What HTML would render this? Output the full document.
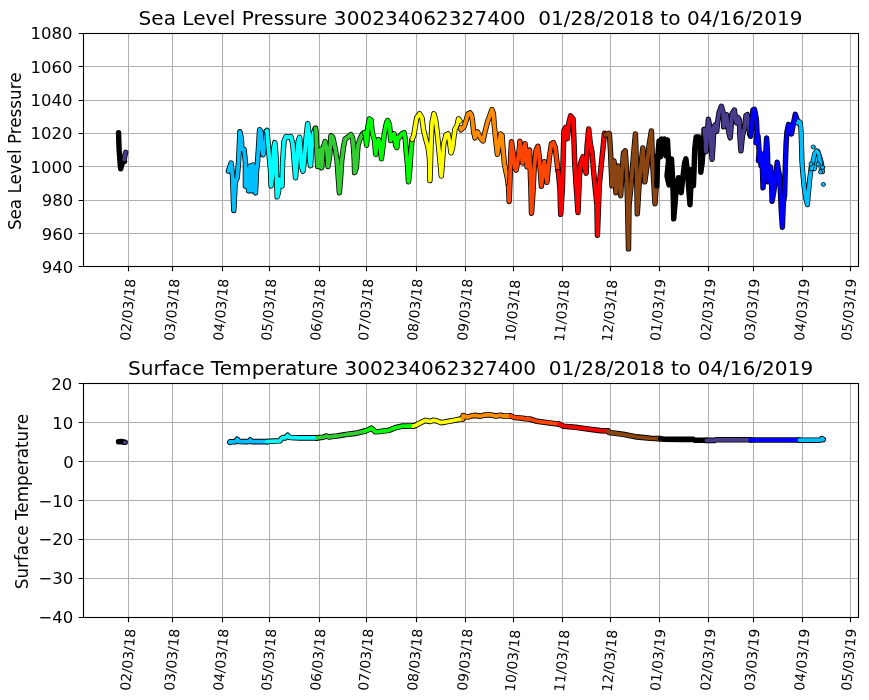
<!DOCTYPE html>
<html><head><meta charset="utf-8"><title>Sea Level Pressure and Surface Temperature</title><style>
html,body{margin:0;padding:0;background:#fff;}
svg{display:block;will-change:transform;}
text{font-family:'DejaVu Sans', 'Liberation Sans', sans-serif;fill:#000;}
.yt{font-size:16.5px;text-anchor:end;}
.xt{font-size:13.8px;text-anchor:middle;}
.yl{font-size:16.75px;text-anchor:middle;}
.ti{font-size:20.08px;text-anchor:middle;}
</style></head><body>
<svg width="869" height="700" viewBox="0 0 869 700">
<rect width="869" height="700" fill="#fff"/>
<path d="M128.5 33.5V266.5M172.5 33.5V266.5M222.5 33.5V266.5M269.5 33.5V266.5M319.5 33.5V266.5M366.5 33.5V266.5M416.5 33.5V266.5M465.5 33.5V266.5M513.5 33.5V266.5M562.5 33.5V266.5M610.5 33.5V266.5M659.5 33.5V266.5M708.5 33.5V266.5M753.5 33.5V266.5M802.5 33.5V266.5M850.5 33.5V266.5M83.5 33.5H858.5M83.5 66.5H858.5M83.5 100.5H858.5M83.5 133.5H858.5M83.5 166.5H858.5M83.5 200.5H858.5M83.5 233.5H858.5M83.5 266.5H858.5" stroke="#b0b0b0" stroke-width="1.11" fill="none"/>
<g transform="translate(0 0.9)"><g fill="none" stroke-linecap="round" stroke-linejoin="round">
<polyline points="118.6,131.8 118.8,140 119.2,150 119.8,158 120.3,165 120.7,168 122,163 123.5,161 124.5,160.5" stroke="#000" stroke-width="5.4"/><polyline points="118.6,131.8 118.8,140 119.2,150 119.8,158 120.3,165 120.7,168 122,163 123.5,161 124.5,160.5" stroke="#000000" stroke-width="3.8"/>
<polyline points="124.3,158.6 124.8,155 125.7,151.4" stroke="#000" stroke-width="5.4"/><polyline points="124.3,158.6 124.8,155 125.7,151.4" stroke="#483d8b" stroke-width="3.8"/>
<polyline points="228.4,170.2 231.1,162.1 232.5,174.3 233.8,209.6 235.2,181 237.2,177 238.6,160.7 239.9,130.9 241.3,137.6 242,148.5 244,148.5 245.4,160.7 245.4,185.1 247,168 248.5,190 250,165 251.5,190 253,164 254.5,188 255.5,192 256.5,170 257.6,160.7 258.9,140.4 259.6,128.8 261,130.9 261.6,144.4 263,153.9 264.3,147.1 265.7,137.6 266.4,130.2" stroke="#000" stroke-width="5.4"/><polyline points="228.4,170.2 231.1,162.1 232.5,174.3 233.8,209.6 235.2,181 237.2,177 238.6,160.7 239.9,130.9 241.3,137.6 242,148.5 244,148.5 245.4,160.7 245.4,185.1 247,168 248.5,190 250,165 251.5,190 253,164 254.5,188 255.5,192 256.5,170 257.6,160.7 258.9,140.4 259.6,128.8 261,130.9 261.6,144.4 263,153.9 264.3,147.1 265.7,137.6 266.4,130.2" stroke="#00bfff" stroke-width="3.8"/>
<polyline points="266.4,130.2 267,129.5 268.4,147.1 270.4,167.5 271.1,185.1 272.5,174.3 273.8,147.1 274.8,141.7 275.9,153.9 276.5,174.3 277.2,196 278.6,190.6 279.2,178.3 280.6,183.8 282,185.1 282.6,160.7 284,140.4 286,135.6 288.7,136.3 290.8,135.6 292.8,143.1 294.2,160.7 295.5,177 296.9,160.7 298.2,140.4 299.6,136.3 300.5,147.1 301.6,166.1 303,170.2 304.3,160.7 305.7,140.4 307.7,122.7 309.1,133.6 309.8,160.7 310.5,164.8 311.8,147.1 313.2,133.6 314.5,129.5 315.4,127.4" stroke="#000" stroke-width="5.4"/><polyline points="266.4,130.2 267,129.5 268.4,147.1 270.4,167.5 271.1,185.1 272.5,174.3 273.8,147.1 274.8,141.7 275.9,153.9 276.5,174.3 277.2,196 278.6,190.6 279.2,178.3 280.6,183.8 282,185.1 282.6,160.7 284,140.4 286,135.6 288.7,136.3 290.8,135.6 292.8,143.1 294.2,160.7 295.5,177 296.9,160.7 298.2,140.4 299.6,136.3 300.5,147.1 301.6,166.1 303,170.2 304.3,160.7 305.7,140.4 307.7,122.7 309.1,133.6 309.8,160.7 310.5,164.8 311.8,147.1 313.2,133.6 314.5,129.5 315.4,127.4" stroke="#00ffff" stroke-width="3.8"/>
<polyline points="315.4,127.4 316,130.3 316.6,142.9 317.1,154.3 317.7,165.7 319,150 320,166 321,148 321.7,166.9 322.9,148.6 325.1,140.6 326.9,148.6 328,165.7 329.7,154.3 330.9,134.9 332.6,136 333.7,140.6 335.4,148.6 337.1,160 338.3,177.1 339.4,192 340.6,177.1 341.7,160 343.4,146.3 345.1,138.3 348,136 350.9,133.7 352.6,137.1 353.7,148.6 354.3,160 354.6,171.7 356.3,167.1 358,144.3 360.3,137.4 362.6,132.9 364.3,131.7" stroke="#000" stroke-width="5.4"/><polyline points="315.4,127.4 316,130.3 316.6,142.9 317.1,154.3 317.7,165.7 319,150 320,166 321,148 321.7,166.9 322.9,148.6 325.1,140.6 326.9,148.6 328,165.7 329.7,154.3 330.9,134.9 332.6,136 333.7,140.6 335.4,148.6 337.1,160 338.3,177.1 339.4,192 340.6,177.1 341.7,160 343.4,146.3 345.1,138.3 348,136 350.9,133.7 352.6,137.1 353.7,148.6 354.3,160 354.6,171.7 356.3,167.1 358,144.3 360.3,137.4 362.6,132.9 364.3,131.7" stroke="#32cd32" stroke-width="3.8"/>
<polyline points="364.3,131.7 365.5,134 366.6,144.3 367.7,127.1 369.4,118 371.1,119.1 371.7,127.1 372.9,134 374.6,139.7 375.7,153.4 376.9,144.3 378.6,138.6 380.3,144.3 381.4,158 383.1,144.3 384.3,132.9 386.6,121.4 387.7,119.7 389.4,123.7 390,129.4 390.6,139.7 392.3,135.1 394,132.9 395.7,144.3 396.9,146.6 398,136.3 399.6,136.3 401.9,132.9 404.1,131.7 405.3,138.6 406.4,153.4 407.6,164.9 408.5,180.9 409.9,167.1 411,150 412.1,138.6" stroke="#000" stroke-width="5.4"/><polyline points="364.3,131.7 365.5,134 366.6,144.3 367.7,127.1 369.4,118 371.1,119.1 371.7,127.1 372.9,134 374.6,139.7 375.7,153.4 376.9,144.3 378.6,138.6 380.3,144.3 381.4,158 383.1,144.3 384.3,132.9 386.6,121.4 387.7,119.7 389.4,123.7 390,129.4 390.6,139.7 392.3,135.1 394,132.9 395.7,144.3 396.9,146.6 398,136.3 399.6,136.3 401.9,132.9 404.1,131.7 405.3,138.6 406.4,153.4 407.6,164.9 408.5,180.9 409.9,167.1 411,150 412.1,138.6" stroke="#00ff00" stroke-width="3.8"/>
<polyline points="412.1,138.6 413.9,134 415,127.1 416.7,116.9 419.6,112.9 421.9,116.9 423.6,129.4 425.9,138.6 428.1,146.6 429.3,155.7 429.9,167.1 429.9,179.7 430.4,164.9 431,144.3 432.1,121.4 433.9,112.9 435.6,119.1 436.7,127.1 437.9,138.6 439,150 440.1,161.4 441.3,175.1 442.4,161.4 443.6,144.3 444,142 446,134 448,133 449.5,140 451,152 452.5,147 454,135 455,128 457,125 458.5,118 460,120" stroke="#000" stroke-width="5.4"/><polyline points="412.1,138.6 413.9,134 415,127.1 416.7,116.9 419.6,112.9 421.9,116.9 423.6,129.4 425.9,138.6 428.1,146.6 429.3,155.7 429.9,167.1 429.9,179.7 430.4,164.9 431,144.3 432.1,121.4 433.9,112.9 435.6,119.1 436.7,127.1 437.9,138.6 439,150 440.1,161.4 441.3,175.1 442.4,161.4 443.6,144.3 444,142 446,134 448,133 449.5,140 451,152 452.5,147 454,135 455,128 457,125 458.5,118 460,120" stroke="#ffff00" stroke-width="3.8"/>
<polyline points="460.5,127 461,129 464,126 466,120 468,113 470,112 471.5,114 472.5,120 473.5,130 475,137 477.5,131 479,134 481,138 483,140 484.5,133 486,127 487.5,121 489.5,115.7 491.9,108.6 493.4,112.6 494.2,123.6 495.8,139.3 497.4,153.5 499,144 500.5,133 502.1,134.6 502.9,147.2 504.4,162.9 506,170.8 507.6,178.6 508.5,185" stroke="#000" stroke-width="5.4"/><polyline points="460.5,127 461,129 464,126 466,120 468,113 470,112 471.5,114 472.5,120 473.5,130 475,137 477.5,131 479,134 481,138 483,140 484.5,133 486,127 487.5,121 489.5,115.7 491.9,108.6 493.4,112.6 494.2,123.6 495.8,139.3 497.4,153.5 499,144 500.5,133 502.1,134.6 502.9,147.2 504.4,162.9 506,170.8 507.6,178.6 508.5,185" stroke="#ff8c00" stroke-width="3.8"/>
<polyline points="508.5,185 509.2,200.6 510,178.6 510.7,155 511.5,140.9 513.1,151.9 514.7,166 516.2,169.2 517.8,159.7 519.4,147.2 519.9,140.3 521.2,149.3 522.5,162.1 523.8,149.3 525.1,142.9 526.4,155.7 527,166 528.3,150.6 529.6,149.3 530.2,168.6 530.9,187.8 531.5,212.3 532.8,194.3 534.1,168.6 536,149.3 537.9,145.4 539.2,155.7 540.5,172.4 541.4,185.3 543.1,168.6 544.3,160.8 545.6,171.1 546.9,181.4 548.2,168.6 549.5,155.7 551.4,142.9 553.3,141.6 555.3,146.7 556.6,158.3 557.8,168.6 558.3,170.7" stroke="#000" stroke-width="5.4"/><polyline points="508.5,185 509.2,200.6 510,178.6 510.7,155 511.5,140.9 513.1,151.9 514.7,166 516.2,169.2 517.8,159.7 519.4,147.2 519.9,140.3 521.2,149.3 522.5,162.1 523.8,149.3 525.1,142.9 526.4,155.7 527,166 528.3,150.6 529.6,149.3 530.2,168.6 530.9,187.8 531.5,212.3 532.8,194.3 534.1,168.6 536,149.3 537.9,145.4 539.2,155.7 540.5,172.4 541.4,185.3 543.1,168.6 544.3,160.8 545.6,171.1 546.9,181.4 548.2,168.6 549.5,155.7 551.4,142.9 553.3,141.6 555.3,146.7 556.6,158.3 557.8,168.6 558.3,170.7" stroke="#ff4500" stroke-width="3.8"/>
<polyline points="558.3,170.7 559.9,187.1 560.7,213.4 562.4,187.1 563.2,154.3 564,129.6 565.7,126.3 567.3,137.8 569,121.4 570.6,114.9 573.1,118.1 573.9,137.8 574.7,162.5 576.3,187.1 578,211.7 579.3,178.9 580.5,162.5 582.9,155.9 584.6,167.4 586.2,172.3 587,146 588.7,128 590.3,142.8 592,151 593.6,170.7 595.2,187.1 596.9,203.5 597.4,234.4 599.3,184.3 601.1,165.7 603,147.1 604.5,132.3 605.8,134.1" stroke="#000" stroke-width="5.4"/><polyline points="558.3,170.7 559.9,187.1 560.7,213.4 562.4,187.1 563.2,154.3 564,129.6 565.7,126.3 567.3,137.8 569,121.4 570.6,114.9 573.1,118.1 573.9,137.8 574.7,162.5 576.3,187.1 578,211.7 579.3,178.9 580.5,162.5 582.9,155.9 584.6,167.4 586.2,172.3 587,146 588.7,128 590.3,142.8 592,151 593.6,170.7 595.2,187.1 596.9,203.5 597.4,234.4 599.3,184.3 601.1,165.7 603,147.1 604.5,132.3 605.8,134.1" stroke="#ff0000" stroke-width="3.8"/>
<polyline points="605.8,134.1 608.6,132.3 609.4,133 610.5,150 611,162 612,185 614,160 615.9,192 618,165 620.7,194.8 622,170 623.5,152 625.3,150 626.5,170 627.5,200 628.5,248 629,205 631,185 633,160 635.4,133 636.5,165 637.3,213 639,185 641,165 642.8,147 644.3,165 644.8,181 647,165 649,145 651.4,130 652.5,160 654,185 655,203 656.5,180 657.4,155.1" stroke="#000" stroke-width="5.4"/><polyline points="605.8,134.1 608.6,132.3 609.4,133 610.5,150 611,162 612,185 614,160 615.9,192 618,165 620.7,194.8 622,170 623.5,152 625.3,150 626.5,170 627.5,200 628.5,248 629,205 631,185 633,160 635.4,133 636.5,165 637.3,213 639,185 641,165 642.8,147 644.3,165 644.8,181 647,165 649,145 651.4,130 652.5,160 654,185 655,203 656.5,180 657.4,155.1" stroke="#8b4513" stroke-width="3.8"/>
<polyline points="656.8,185 657.2,170 657.5,160 659,140 660.5,156 661.5,138 663,152 664.5,138 666,155 667.5,139 668.5,160 667,175 669,184 670.5,165 671.5,158 672.5,175 673.2,195 673.7,218 675.1,202.6 676.4,185 678.5,176.8 679.8,189.1 681.2,191.8 682.5,179.6 684.6,161.9 685.9,157.9 687.3,168.7 688.6,186.3 690,204 690.7,189.1 691.3,168.7 692.7,175.5 693.4,185 694.1,168.7 694.7,148.4 696.1,136.1 698.8,136.1 700.2,148.4 700.8,171.4 702.2,161.9 703.6,141.6 704.2,128.6" stroke="#000" stroke-width="5.4"/><polyline points="656.8,185 657.2,170 657.5,160 659,140 660.5,156 661.5,138 663,152 664.5,138 666,155 667.5,139 668.5,160 667,175 669,184 670.5,165 671.5,158 672.5,175 673.2,195 673.7,218 675.1,202.6 676.4,185 678.5,176.8 679.8,189.1 681.2,191.8 682.5,179.6 684.6,161.9 685.9,157.9 687.3,168.7 688.6,186.3 690,204 690.7,189.1 691.3,168.7 692.7,175.5 693.4,185 694.1,168.7 694.7,148.4 696.1,136.1 698.8,136.1 700.2,148.4 700.8,171.4 702.2,161.9 703.6,141.6 704.2,128.6" stroke="#000000" stroke-width="3.8"/>
<polyline points="704.2,128.6 705.6,139.8 706,150.9 707,135.1 708.4,118.4 709.7,125.9 710.7,139.8 712.1,158.4 713,144.4 713.9,125.9 715.3,124 716.7,130.5 717.6,121.2 719,111.9 721.4,105.4 723.2,111.9 723.7,125.9 725.1,116.6 726.5,113.8 727.4,122.1 728.8,131.4 730.2,137 731.1,125.9 732,112.9 734.4,109.1 735.3,116.6 736.7,122.1 738.1,116.6 739.5,119.4 739.9,135.1 740.9,150 742.2,137 743.2,131.4 744.6,127.7 746,114.7 747.4,113.8 748.7,121.2 749.7,133.3 750.6,135.1" stroke="#000" stroke-width="5.4"/><polyline points="704.2,128.6 705.6,139.8 706,150.9 707,135.1 708.4,118.4 709.7,125.9 710.7,139.8 712.1,158.4 713,144.4 713.9,125.9 715.3,124 716.7,130.5 717.6,121.2 719,111.9 721.4,105.4 723.2,111.9 723.7,125.9 725.1,116.6 726.5,113.8 727.4,122.1 728.8,131.4 730.2,137 731.1,125.9 732,112.9 734.4,109.1 735.3,116.6 736.7,122.1 738.1,116.6 739.5,119.4 739.9,135.1 740.9,150 742.2,137 743.2,131.4 744.6,127.7 746,114.7 747.4,113.8 748.7,121.2 749.7,133.3 750.6,135.1" stroke="#483d8b" stroke-width="3.8"/>
<polyline points="750.6,135.1 751.7,127.9 752.9,109.1 754.5,108.4 756.4,118.6 757,131.6 756,142 758,135 759.1,150 758.5,160 760,152 761,165 761.5,153 762.5,170 763,187 764,172 765.6,155.7 766.6,137.1 767.5,152 767.8,165 768.2,181 769.4,170.6 770.5,166 771.5,178 772.1,200.3 774,189.1 775.9,174.3 777.2,161.3 778.5,170 779.6,174.3 780.5,192.9 781.4,211.4 782.4,226.3 783.3,202.1 784.6,194.3 785.4,162.9 786.1,142.5 786.9,131.4 788.5,123.6 790.1,125.2 791.6,133 793.2,123.6 795.3,113.4 797.2,118.9 797.9,122" stroke="#000" stroke-width="5.4"/><polyline points="750.6,135.1 751.7,127.9 752.9,109.1 754.5,108.4 756.4,118.6 757,131.6 756,142 758,135 759.1,150 758.5,160 760,152 761,165 761.5,153 762.5,170 763,187 764,172 765.6,155.7 766.6,137.1 767.5,152 767.8,165 768.2,181 769.4,170.6 770.5,166 771.5,178 772.1,200.3 774,189.1 775.9,174.3 777.2,161.3 778.5,170 779.6,174.3 780.5,192.9 781.4,211.4 782.4,226.3 783.3,202.1 784.6,194.3 785.4,162.9 786.1,142.5 786.9,131.4 788.5,123.6 790.1,125.2 791.6,133 793.2,123.6 795.3,113.4 797.2,118.9 797.9,122" stroke="#0000ff" stroke-width="3.8"/>
<polyline points="797.9,122 798.7,120.4 800.3,122 801.1,131.4 801.6,147.2 801.9,159.7 802.7,170.8 804.2,186.5 805.8,197.5 807.4,203.8 808.2,194.3 809.7,178.6 811.3,166 812.9,162.9 814.4,167.6 816,155 817.6,150.3 819.2,155 820.7,159.7 821.5,162.9 822.3,170.8" stroke="#000" stroke-width="5.2"/><polyline points="797.9,122 798.7,120.4 800.3,122 801.1,131.4 801.6,147.2 801.9,159.7 802.7,170.8 804.2,186.5 805.8,197.5 807.4,203.8 808.2,194.3 809.7,178.6 811.3,166 812.9,162.9 814.4,167.6 816,155 817.6,150.3 819.2,155 820.7,159.7 821.5,162.9 822.3,170.8" stroke="#00bfff" stroke-width="3.7"/>
<polyline points="811.5,168 813,160 814.5,153 816.5,150 818.5,152 820,160 821,167" stroke="#000" stroke-width="4.8"/><polyline points="811.5,168 813,160 814.5,153 816.5,150 818.5,152 820,160 821,167" stroke="#00bfff" stroke-width="3.4"/>
<circle cx="813.2" cy="146.1" r="2.1" fill="#00bfff" stroke="#000" stroke-width="0.7"/>
<circle cx="823.4" cy="183.5" r="2.1" fill="#00bfff" stroke="#000" stroke-width="0.7"/>
<circle cx="822.6" cy="166.4" r="2.1" fill="#00bfff" stroke="#000" stroke-width="0.7"/>
<circle cx="811" cy="163" r="2.1" fill="#00bfff" stroke="#000" stroke-width="0.7"/>
<circle cx="818.2" cy="163.5" r="2.1" fill="#00bfff" stroke="#000" stroke-width="0.7"/>
<circle cx="820.5" cy="171" r="2.1" fill="#00bfff" stroke="#000" stroke-width="0.7"/>
</g></g>
<rect x="83.5" y="33.5" width="775" height="233" fill="none" stroke="#000" stroke-width="1.11"/>
<path d="M83.5 33.5H78.64M83.5 66.5H78.64M83.5 100.5H78.64M83.5 133.5H78.64M83.5 166.5H78.64M83.5 200.5H78.64M83.5 233.5H78.64M83.5 266.5H78.64M128.5 266.5V271.36M172.5 266.5V271.36M222.5 266.5V271.36M269.5 266.5V271.36M319.5 266.5V271.36M366.5 266.5V271.36M416.5 266.5V271.36M465.5 266.5V271.36M513.5 266.5V271.36M562.5 266.5V271.36M610.5 266.5V271.36M659.5 266.5V271.36M708.5 266.5V271.36M753.5 266.5V271.36M802.5 266.5V271.36M850.5 266.5V271.36" stroke="#000" stroke-width="1.11" fill="none"/>
<text x="72.4" y="38.85" class="yt">1080</text>
<text x="72.4" y="72.75" class="yt">1060</text>
<text x="72.4" y="105.85" class="yt">1040</text>
<text x="72.4" y="138.95" class="yt">1020</text>
<text x="72.4" y="172.85" class="yt">1000</text>
<text x="73.3" y="205.85" class="yt">980</text>
<text x="73.3" y="239.85" class="yt">960</text>
<text x="73.3" y="272.85" class="yt">940</text>
<text transform="translate(127.7 309.62) rotate(-85)" y="5.03" class="xt">02/03/18</text>
<text transform="translate(171.7 309.62) rotate(-85)" y="5.03" class="xt">03/03/18</text>
<text transform="translate(220.75 309.62) rotate(-85)" y="5.03" class="xt">04/03/18</text>
<text transform="translate(268.6 309.62) rotate(-85)" y="5.03" class="xt">05/03/18</text>
<text transform="translate(317.75 309.62) rotate(-85)" y="5.03" class="xt">06/03/18</text>
<text transform="translate(365.6 309.62) rotate(-85)" y="5.03" class="xt">07/03/18</text>
<text transform="translate(414.75 309.62) rotate(-85)" y="5.03" class="xt">08/03/18</text>
<text transform="translate(464.8 309.62) rotate(-85)" y="5.03" class="xt">09/03/18</text>
<text transform="translate(512.5 310.62) rotate(-85)" y="5.03" class="xt">10/03/18</text>
<text transform="translate(561.8 310.62) rotate(-85)" y="5.03" class="xt">11/03/18</text>
<text transform="translate(609.5 310.62) rotate(-85)" y="5.03" class="xt">12/03/18</text>
<text transform="translate(657.7 309.87) rotate(-85)" y="5.03" class="xt">01/03/19</text>
<text transform="translate(707.7 309.62) rotate(-85)" y="5.03" class="xt">02/03/19</text>
<text transform="translate(751.7 309.62) rotate(-85)" y="5.03" class="xt">03/03/19</text>
<text transform="translate(801.7 309.62) rotate(-85)" y="5.03" class="xt">04/03/19</text>
<text transform="translate(848.6 309.62) rotate(-85)" y="5.03" class="xt">05/03/19</text>
<text transform="translate(20.8 151.3) rotate(-90)" class="yl">Sea Level Pressure</text>
<text x="470.6" y="24.9" class="ti">Sea Level Pressure 300234062327400 &#160;01/28/2018 to 04/16/2019</text>
<path d="M128.5 383.5V617.5M172.5 383.5V617.5M222.5 383.5V617.5M269.5 383.5V617.5M319.5 383.5V617.5M366.5 383.5V617.5M416.5 383.5V617.5M465.5 383.5V617.5M513.5 383.5V617.5M562.5 383.5V617.5M610.5 383.5V617.5M659.5 383.5V617.5M708.5 383.5V617.5M753.5 383.5V617.5M802.5 383.5V617.5M850.5 383.5V617.5M83.5 383.5H858.5M83.5 422.5H858.5M83.5 461.5H858.5M83.5 500.5H858.5M83.5 539.5H858.5M83.5 578.5H858.5M83.5 617.5H858.5" stroke="#b0b0b0" stroke-width="1.11" fill="none"/>
<g fill="none" stroke-linecap="round" stroke-linejoin="round">
<polyline points="118.6,441.8 121,441.6 123.3,442.1" stroke="#000" stroke-width="5.6"/>
<polyline points="124.9,442.3 125.1,442.3" stroke="#000" stroke-width="5.6"/>
<polyline points="229.8,442.3 230,441.9 233,441.8 235.5,441.7 237.2,439.2 239,441.5 248,441.6 249.3,441.4 250.3,440 251.5,441.4 253,441.6 267.1,441.6" stroke="#000" stroke-width="5.6"/>
<polyline points="267.1,441.6 270,441.3 280,440.8 281.5,438.5 283,437.5 285,438 286.5,436.5 287.6,435.3 289,437.2 291,437.5 300,437.9 316.8,437.9" stroke="#000" stroke-width="5.6"/>
<polyline points="316.8,437.9 323,437.2 326.7,436 329,437 332,436.5 337,436 346,434.5 355,433.4 364.2,431.3" stroke="#000" stroke-width="5.6"/>
<polyline points="364.2,431.3 366,430.8 369,429.5 371.3,428.2 373.5,430 375.5,431.8 380,431.5 388.8,430.3 395,427.8 402.6,426.1 413.4,426" stroke="#000" stroke-width="5.6"/>
<polyline points="413.4,426 416.4,425 420,423 425.2,420.4 430.2,421.5 433.5,420.2 437,421 441.3,422.7 448.7,421.3 455,420.2 459.2,419.3 462.5,418.8" stroke="#000" stroke-width="5.6"/>
<polyline points="462.5,418.8 463.2,415.5 465,416.5 468.4,417 471,416 474.4,415.4 480.4,416.1 485,415 489.6,414.7 496,416.1 500.6,415.2 503,416 510.5,416" stroke="#000" stroke-width="5.6"/>
<polyline points="510.5,416 514.5,417.5 522.7,418.2 525,418.8 529.6,419 537,421.3 548,422.7 559.3,424.2" stroke="#000" stroke-width="5.6"/>
<polyline points="559.3,424.2 563.7,426.2 575.6,427.3 589.5,429.2 600.5,430.6 608,431" stroke="#000" stroke-width="5.6"/>
<polyline points="608,431 609.2,432.5 623,434.3 636.8,436.9 650.6,438.3 659.6,438.6" stroke="#000" stroke-width="5.6"/>
<polyline points="659.6,438.6 664.5,439.2 680,439.4 693.4,439.3 694.5,440.2 706.5,440.2" stroke="#000" stroke-width="5.6"/>
<polyline points="706.5,440.4 714.6,440.4 716,439.8 750.2,439.8" stroke="#000" stroke-width="5.6"/>
<polyline points="750.2,440 799.5,440" stroke="#000" stroke-width="5.6"/>
<polyline points="799.5,440.2 820,440.2 821.8,438.6 823.3,439.5" stroke="#000" stroke-width="5.6"/>
<polyline points="118.6,441.8 121,441.6 123.3,442.1" stroke="#000000" stroke-width="3.8"/>
<polyline points="124.9,442.3 125.1,442.3" stroke="#483d8b" stroke-width="3.8"/>
<polyline points="229.8,442.3 230,441.9 233,441.8 235.5,441.7 237.2,439.2 239,441.5 248,441.6 249.3,441.4 250.3,440 251.5,441.4 253,441.6 267.1,441.6" stroke="#00bfff" stroke-width="3.8"/>
<polyline points="267.1,441.6 270,441.3 280,440.8 281.5,438.5 283,437.5 285,438 286.5,436.5 287.6,435.3 289,437.2 291,437.5 300,437.9 316.8,437.9" stroke="#00ffff" stroke-width="3.8"/>
<polyline points="316.8,437.9 323,437.2 326.7,436 329,437 332,436.5 337,436 346,434.5 355,433.4 364.2,431.3" stroke="#32cd32" stroke-width="3.8"/>
<polyline points="364.2,431.3 366,430.8 369,429.5 371.3,428.2 373.5,430 375.5,431.8 380,431.5 388.8,430.3 395,427.8 402.6,426.1 413.4,426" stroke="#00ff00" stroke-width="3.8"/>
<polyline points="413.4,426 416.4,425 420,423 425.2,420.4 430.2,421.5 433.5,420.2 437,421 441.3,422.7 448.7,421.3 455,420.2 459.2,419.3 462.5,418.8" stroke="#ffff00" stroke-width="3.8"/>
<polyline points="462.5,418.8 463.2,415.5 465,416.5 468.4,417 471,416 474.4,415.4 480.4,416.1 485,415 489.6,414.7 496,416.1 500.6,415.2 503,416 510.5,416" stroke="#ff8c00" stroke-width="3.8"/>
<polyline points="510.5,416 514.5,417.5 522.7,418.2 525,418.8 529.6,419 537,421.3 548,422.7 559.3,424.2" stroke="#ff4500" stroke-width="3.8"/>
<polyline points="559.3,424.2 563.7,426.2 575.6,427.3 589.5,429.2 600.5,430.6 608,431" stroke="#ff0000" stroke-width="3.8"/>
<polyline points="608,431 609.2,432.5 623,434.3 636.8,436.9 650.6,438.3 659.6,438.6" stroke="#8b4513" stroke-width="3.8"/>
<polyline points="659.6,438.6 664.5,439.2 680,439.4 693.4,439.3 694.5,440.2 706.5,440.2" stroke="#000000" stroke-width="3.8"/>
<polyline points="706.5,440.4 714.6,440.4 716,439.8 750.2,439.8" stroke="#483d8b" stroke-width="3.8"/>
<polyline points="750.2,440 799.5,440" stroke="#0000ff" stroke-width="3.8"/>
<polyline points="799.5,440.2 820,440.2 821.8,438.6 823.3,439.5" stroke="#00bfff" stroke-width="3.8"/>
</g>
<rect x="83.5" y="383.5" width="775" height="234" fill="none" stroke="#000" stroke-width="1.11"/>
<path d="M83.5 383.5H78.64M83.5 422.5H78.64M83.5 461.5H78.64M83.5 500.5H78.64M83.5 539.5H78.64M83.5 578.5H78.64M83.5 617.5H78.64M128.5 617.5V622.36M172.5 617.5V622.36M222.5 617.5V622.36M269.5 617.5V622.36M319.5 617.5V622.36M366.5 617.5V622.36M416.5 617.5V622.36M465.5 617.5V622.36M513.5 617.5V622.36M562.5 617.5V622.36M610.5 617.5V622.36M659.5 617.5V622.36M708.5 617.5V622.36M753.5 617.5V622.36M802.5 617.5V622.36M850.5 617.5V622.36" stroke="#000" stroke-width="1.11" fill="none"/>
<text x="72.2" y="389.85" class="yt">20</text>
<text x="73.3" y="428.85" class="yt">10</text>
<text x="73.7" y="467.85" class="yt">0</text>
<text x="73.3" y="506.75" class="yt">−10</text>
<text x="73.3" y="544.75" class="yt">−20</text>
<text x="73.3" y="583.55" class="yt">−30</text>
<text x="73.35" y="622.65" class="yt">−40</text>
<text transform="translate(127.7 659.7) rotate(-85)" y="5.03" class="xt">02/03/18</text>
<text transform="translate(171.7 659.7) rotate(-85)" y="5.03" class="xt">03/03/18</text>
<text transform="translate(220.75 659.7) rotate(-85)" y="5.03" class="xt">04/03/18</text>
<text transform="translate(268.6 659.7) rotate(-85)" y="5.03" class="xt">05/03/18</text>
<text transform="translate(317.75 659.7) rotate(-85)" y="5.03" class="xt">06/03/18</text>
<text transform="translate(365.6 659.7) rotate(-85)" y="5.03" class="xt">07/03/18</text>
<text transform="translate(414.75 659.7) rotate(-85)" y="5.03" class="xt">08/03/18</text>
<text transform="translate(464.8 659.7) rotate(-85)" y="5.03" class="xt">09/03/18</text>
<text transform="translate(512.5 660.7) rotate(-85)" y="5.03" class="xt">10/03/18</text>
<text transform="translate(561.8 660.7) rotate(-85)" y="5.03" class="xt">11/03/18</text>
<text transform="translate(609.5 660.7) rotate(-85)" y="5.03" class="xt">12/03/18</text>
<text transform="translate(657.7 659.95) rotate(-85)" y="5.03" class="xt">01/03/19</text>
<text transform="translate(707.7 659.7) rotate(-85)" y="5.03" class="xt">02/03/19</text>
<text transform="translate(751.7 659.7) rotate(-85)" y="5.03" class="xt">03/03/19</text>
<text transform="translate(801.7 659.7) rotate(-85)" y="5.03" class="xt">04/03/19</text>
<text transform="translate(848.6 659.7) rotate(-85)" y="5.03" class="xt">05/03/19</text>
<text transform="translate(27.7 501.55) rotate(-90)" class="yl">Surface Temperature</text>
<text x="470.6" y="374.8" class="ti">Surface Temperature 300234062327400 &#160;01/28/2018 to 04/16/2019</text>
</svg>
</body></html>
